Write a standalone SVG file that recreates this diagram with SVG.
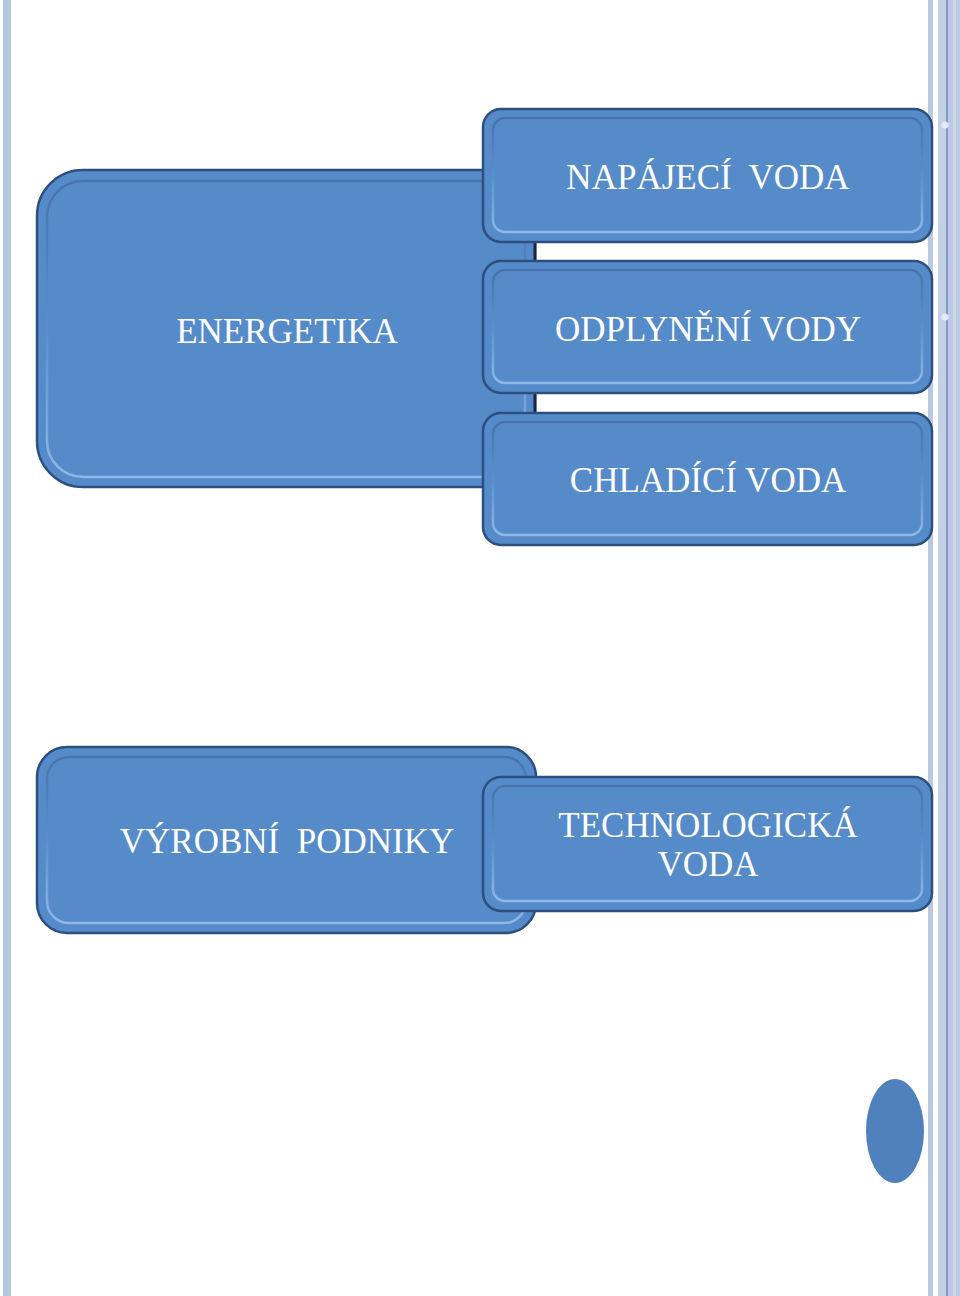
<svg xmlns="http://www.w3.org/2000/svg" width="960" height="1296" viewBox="0 0 960 1296">
<style>
.box{fill:#568bca;stroke:#2d4f80;stroke-width:2.5}
.inner{fill:none;stroke:url(#bevel);stroke-width:2.5}
.lbl{font-family:"Liberation Serif","Times New Roman",serif;font-size:35px;fill:#ffffff;text-anchor:middle}
.shade{fill:none;stroke:#1a2740;stroke-width:3}
</style>
<defs>
<linearGradient id="bevel" x1="0" y1="0" x2="0" y2="1">
<stop offset="0" stop-color="#4673ad"/>
<stop offset="0.5" stop-color="#5a8ecc"/>
<stop offset="1" stop-color="#8fb8e8"/>
</linearGradient>
</defs>
<rect width="960" height="1296" fill="#ffffff"/>
<g id="frame">
<rect x="3" y="0" width="8" height="1296" fill="#b5c6df"/>
<rect x="928" y="0" width="5" height="1296" fill="#b9c9e0"/>
<rect x="938" y="0" width="8" height="1296" fill="#c3d0e6"/>
<rect x="946" y="0" width="2" height="1296" fill="#7f9bc6"/>
<rect x="948" y="0" width="12" height="1296" fill="#bccbe3"/>
<rect x="953" y="0" width="3" height="1296" fill="#cdd8ea"/>
<circle cx="945" cy="125" r="3.5" fill="#e6ecf5"/>
<circle cx="945" cy="317" r="3.5" fill="#e6ecf5"/>
</g>
<g id="connectors"></g>
<g id="energetika">
<rect class="box" x="37" y="170" width="498" height="317" rx="46"/>
<rect class="inner" x="47" y="181" width="478" height="296" rx="36"/>
<path class="shade" d="M535 215 V470"/>
<text class="lbl" x="287" y="343">ENERGETIKA</text>
</g>
<g id="napajeci">
<rect class="box" x="483" y="109" width="449" height="133" rx="18" stroke="#1f3a63"/>
<rect class="inner" x="493" y="118" width="429" height="114" rx="12"/>
<text class="lbl" x="708" y="189" xml:space="preserve">NAPÁJECÍ  VODA</text>
</g>
<g id="odplyneni">
<rect class="box" x="483" y="261" width="449" height="132" rx="18" stroke="#1f3a63"/>
<rect class="inner" x="493" y="270" width="429" height="113" rx="12"/>
<text class="lbl" x="708" y="341">ODPLYNĚNÍ VODY</text>
</g>
<g id="chladici">
<rect class="box" x="483" y="413" width="449" height="132" rx="18" stroke="#1f3a63"/>
<rect class="inner" x="493" y="422" width="429" height="113" rx="12"/>
<text class="lbl" x="708" y="492">CHLADÍCÍ VODA</text>
</g>
<g id="vyrobni">
<rect class="box" x="37" y="747" width="499" height="186" rx="30"/>
<rect class="inner" x="47" y="757" width="479" height="166" rx="22"/>
<text class="lbl" x="287" y="853" xml:space="preserve">VÝROBNÍ  PODNIKY</text>
</g>
<g id="technologicka">
<rect class="box" x="483" y="777" width="449" height="134" rx="18" stroke="#1f3a63"/>
<rect class="inner" x="493" y="786" width="429" height="115" rx="12"/>
<text class="lbl" x="708" y="837">TECHNOLOGICKÁ</text>
<text class="lbl" x="708" y="876">VODA</text>
</g>
<g id="ellipse">
<ellipse cx="895" cy="1131" rx="29" ry="52" fill="#4f81bd"/>
</g>
</svg>
